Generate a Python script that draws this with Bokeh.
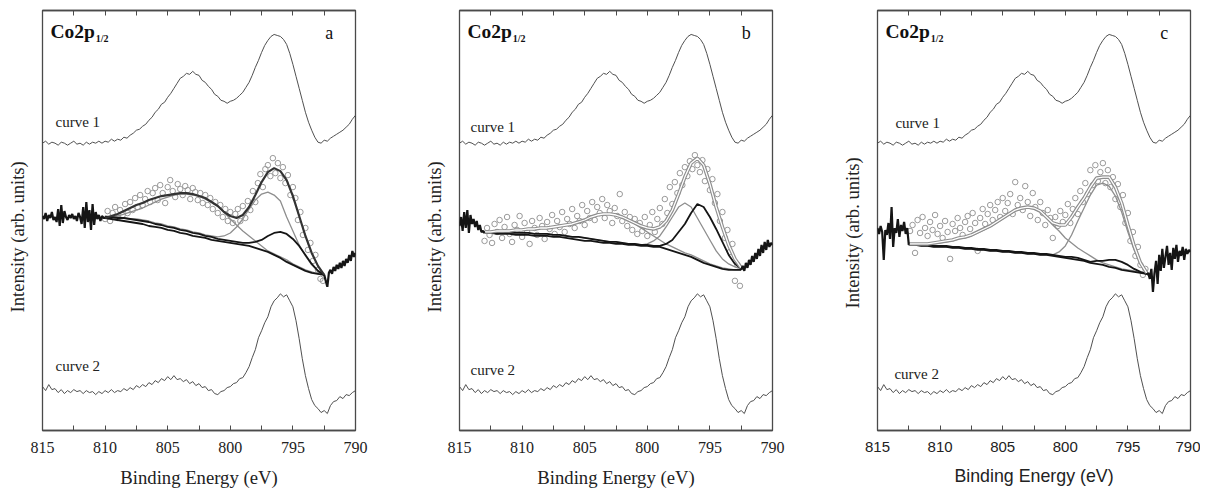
import numpy as np
from bokeh.plotting import figure
from bokeh.layouts import row
from bokeh.models import Range1d, LinearAxis, FixedTicker, Label, Title
from bokeh.embed import file_html
from bokeh.resources import INLINE

# ---------------- data (intensity in arbitrary units, energy in eV) ----------------
major_ticks = [815, 810, 805, 800, 795, 790]
minor_ticks = [812.5, 807.5, 802.5, 797.5, 792.5]

# curve 1 (top), 815 -> 790 eV, 0.25 eV step
curve1 = [288, 290, 287, 289, 288, 286, 289, 288, 286, 288, 290, 287, 288, 286, 289, 287, 289, 288, 290, 288,
          290, 289, 292, 290, 292, 291, 294, 293, 296, 298, 301, 302, 305, 307, 311, 314, 319, 322, 327, 329,
          334, 338, 343, 348, 353, 355, 358, 357, 360, 357, 356, 351, 349, 345, 342, 337, 335, 331, 330, 328,
          330, 331, 333, 336, 339, 344, 349, 356, 364, 371, 379, 386, 391, 395, 397, 396, 395, 392, 387, 378,
          367, 355, 343, 331, 319, 309, 301, 294, 289, 288, 291, 290, 293, 295, 297, 299, 301, 304, 307, 312, 316]
# curve 2 (bottom), 815 -> 790 eV, 0.25 eV step
curve2 = [44, 40, 46, 41, 42, 38, 41, 37, 40, 38, 41, 39, 40, 37, 40, 38, 39, 36, 39, 37,
          40, 38, 41, 38, 40, 39, 42, 40, 43, 41, 45, 43, 46, 44, 48, 46, 50, 48, 52, 50,
          54, 51, 55, 51, 52, 49, 51, 47, 49, 45, 47, 43, 44, 40, 41, 37, 36, 39, 40, 43,
          44, 47, 48, 52, 53, 58, 64, 73, 81, 93, 100, 108, 114, 124, 130, 133, 137, 134, 136, 130,
          124, 110, 92, 72, 55, 42, 31, 25, 22, 18, 20, 17, 25, 29, 30, 34, 32, 36, 35, 38, 40]

# ---- panel a : fit 810 -> 792.5 eV (0.5 eV step) ----
a_bg = [213, 212, 211, 210, 209, 208, 207, 205, 204, 203, 201, 200, 198, 197, 195, 194, 193, 191, 190, 189,
        188, 187, 186, 185, 183, 181, 179, 176, 173, 169, 166, 163, 160, 158, 157, 156]
a_comp1 = [213, 214, 215, 217, 219, 221, 223, 226, 229, 232, 234, 236, 237, 237, 236, 235, 232, 229, 225, 219,
           212, 206, 200, 195, 190, 185, 180, 177, 174, 171, 167, 164, 161, 159, 157, 156]
a_comp2 = [215, 214, 214, 213, 212, 212, 211, 210, 208, 207, 205, 204, 202, 201, 199, 198, 196, 195, 194, 195,
           198, 204, 212, 222, 231, 237, 239, 236, 230, 214, 200, 186, 175, 166, 160, 156]
a_comp3 = [214, 214, 213, 213, 212, 211, 210, 209, 207, 206, 204, 203, 201, 200, 198, 197, 195, 194, 192, 191,
           190, 189, 188, 188, 189, 191, 195, 198, 199, 197, 192, 185, 176, 167, 160, 156]
a_env = [213, 215, 217, 220, 223, 226, 228, 231, 233, 235, 236, 237, 238, 238, 237, 235, 233, 229, 225, 219,
         215, 213, 216, 224, 236, 249, 259, 263, 260, 251, 235, 215, 195, 178, 165, 156]
a_raw_left = [215, 212, 218, 210, 216, 213, 219, 211, 214, 209, 222, 205, 226, 208, 220, 214, 211, 216, 213, 217,
              212, 215, 210, 218, 214, 207, 224, 203, 229, 209, 221, 201, 227, 206, 219, 212, 216, 210, 215, 213, 213]
a_raw_right = [156, 150, 144, 158, 161, 157, 164, 160, 166, 162, 168, 163, 170, 165, 172, 168, 176, 170, 180, 174, 178]
a_points = [212, 220, 210, 218, 224, 213, 221, 216, 227, 218, 229, 221, 233, 224, 236, 226, 232, 240, 229, 238,
            243, 231, 246, 238, 228, 244, 251, 240, 234, 247, 242, 236, 245, 241, 232, 243, 239, 231, 238, 228,
            236, 226, 233, 222, 229, 218, 226, 214, 222, 210, 219, 208, 217, 222, 210, 225, 213, 230, 221, 240,
            229, 248, 257, 244, 262, 266, 255, 273, 258, 268, 253, 264, 248, 256, 236, 244, 233, 211, 219, 196,
            203, 181, 188, 170, 176, 161, 152, 150]

# ---- panel b : fit 813 -> 792.5 eV (0.5 eV step) ----
b_bg = [198, 198, 197, 197, 197, 196, 196, 196, 195, 195, 195, 194, 194, 193, 192, 191, 190, 190, 189, 188,
        188, 187, 187, 186, 186, 185, 185, 184, 184, 182, 180, 178, 176, 174, 171, 168, 166, 164, 162, 161, 161, 161]
b_comp1 = [199, 199, 200, 200, 200, 201, 201, 202, 202, 203, 203, 204, 205, 206, 207, 209, 211, 214, 216, 217,
           217, 216, 214, 211, 207, 203, 199, 195, 191, 187, 184, 181, 178, 176, 173, 170, 167, 165, 163, 162, 161, 161]
b_comp2 = [199, 199, 199, 199, 198, 198, 198, 198, 197, 197, 197, 196, 196, 195, 194, 194, 193, 192, 191, 190,
           189, 189, 188, 187, 187, 186, 187, 190, 195, 204, 214, 224, 228, 224, 213, 202, 191, 180, 172, 167, 164, 162]
b_comp3 = [199, 199, 199, 199, 198, 198, 198, 198, 197, 197, 197, 196, 196, 195, 194, 194, 193, 192, 191, 190,
           189, 189, 188, 187, 187, 186, 186, 185, 185, 187, 191, 199, 207, 218, 227, 224, 214, 202, 189, 176, 167, 162]
b_env = [199, 199, 200, 200, 200, 201, 201, 202, 202, 203, 203, 204, 205, 206, 207, 209, 211, 214, 216, 217,
         217, 216, 214, 211, 208, 205, 203, 202, 204, 210, 221, 237, 254, 268, 273, 266, 247, 224, 204, 186, 172, 163]
b_raw_left = [205, 214, 200, 219, 203, 221, 198, 216, 207, 212, 204, 210, 201, 206, 199, 200, 198]
b_raw_right = [161, 165, 160, 168, 163, 171, 166, 175, 169, 178, 172, 182, 175, 186, 178, 189, 181, 191, 184, 188, 186]
b_points = [190, 203, 196, 188, 207, 199, 211, 193, 204, 214, 197, 189, 206, 201, 215, 194, 208, 199, 187, 210,
            203, 196, 213, 205, 192, 209, 202, 216, 197, 210, 204, 219, 199, 212, 207, 222, 203, 215, 210, 226,
            206, 220, 213, 229, 211, 224, 218, 232, 213, 226, 220, 208, 223, 215, 237, 210, 219, 205, 214, 201,
            212, 197, 208, 200, 214, 195, 206, 219, 199, 212, 223, 207, 232, 218, 244, 227, 249, 238, 258, 246,
            264, 255, 270, 262, 276, 266, 259, 271, 250, 262, 241, 252, 228, 237, 210, 219, 193, 201, 179, 187,
            150, 166, 145]

# ---- panel c : fit 812.5 -> 793.5 eV (0.5 eV step) ----
c_bg = [186, 186, 185, 185, 184, 184, 184, 183, 183, 182, 182, 181, 181, 180, 180, 179, 179, 178, 178, 177,
        177, 176, 176, 175, 174, 173, 172, 171, 170, 168, 167, 166, 164, 163, 161, 160, 159, 158, 157]
c_comp1 = [186, 186, 186, 186, 187, 188, 189, 190, 192, 193, 195, 198, 201, 204, 208, 212, 216, 220, 222, 223,
           222, 219, 213, 206, 200, 193, 188, 183, 179, 175, 171, 168, 166, 164, 162, 161, 160, 158, 157]
c_comp2 = [186, 186, 185, 185, 184, 184, 184, 183, 183, 182, 182, 181, 181, 180, 180, 179, 179, 178, 178, 177,
           177, 176, 176, 176, 179, 185, 196, 210, 223, 236, 246, 248, 245, 235, 219, 199, 181, 167, 158]
c_comp3 = [187, 187, 186, 186, 185, 185, 185, 184, 184, 183, 183, 182, 182, 181, 181, 180, 180, 179, 179, 178,
           178, 177, 177, 176, 175, 174, 174, 173, 171, 169, 170, 170, 171, 171, 169, 166, 162, 159, 157]
c_env = [187, 187, 187, 187, 188, 189, 190, 191, 193, 194, 196, 199, 202, 205, 209, 213, 217, 221, 223, 224,
         223, 220, 214, 208, 206, 206, 214, 224, 233, 244, 253, 254, 254, 244, 228, 206, 185, 168, 158]
c_raw_left = [203, 197, 205, 199, 171, 201, 196, 208, 192, 224, 184, 203, 198, 212, 194, 206, 200, 209, 197, 203, 186]
c_raw_right = [156, 158, 152, 162, 139, 158, 170, 147, 176, 160, 182, 163, 174, 185, 166, 178, 161, 183, 172, 186,
               169, 180, 175, 184, 171, 182, 177, 181, 179]
c_points = [200, 206, 178, 211, 198, 214, 203, 195, 209, 201, 216, 197, 205, 193, 210, 199, 172, 207, 200, 213,
            203, 196, 209, 215, 202, 218, 208, 180, 213, 222, 207, 217, 226, 211, 221, 229, 214, 233, 220, 228,
            237, 217, 249, 226, 233, 221, 245, 229, 215, 238, 224, 211, 229, 218, 206, 221, 213, 193, 214, 205,
            220, 209, 216, 227, 208, 222, 233, 217, 240, 229, 248, 237, 261, 246, 266, 250, 259, 268, 248, 261,
            244, 254, 232, 247, 224, 236, 208, 218, 190, 199, 175, 184, 166, 156, 162]


def grid(start, step, n):
    """energy sampling grid (descending)"""
    return start - step * np.arange(n)


SERIF = "Liberation Serif"
SANS = "Liberation Sans"
FRAME_C = "#4a4a4a"
GRAY = "#8e8e8e"
DARK = "#151515"


def make_panel(letter, fit_start, bg, comp1, comp2, comp3, env, raw_left, raw_right_start, raw_right,
               pts_start, pts, env_dark, tick_font, tick_size, xlab_font, xlab_size,
               c1_lab, c2_lab, border_right, ylab_offset):
    p = figure(frame_width=313, frame_height=420, x_range=Range1d(815, 790), y_range=Range1d(0, 421),
               output_backend="svg", toolbar_location=None, x_axis_location=None, y_axis_location=None,
               min_border_left=42, min_border_right=border_right, min_border_top=10,
               min_border_bottom=58)
    p.grid.visible = False
    p.outline_line_color = FRAME_C
    p.outline_line_width = 1.3
    p.background_fill_color = "white"
    p.border_fill_color = "white"

    xb = LinearAxis(ticker=FixedTicker(ticks=major_ticks, minor_ticks=minor_ticks),
                    axis_label="Binding Energy (eV)")
    # top axis: ticks only (all as minor ticks, so no labels)
    xt = LinearAxis(ticker=FixedTicker(ticks=[], minor_ticks=major_ticks + minor_ticks))
    for ax in (xb, xt):
        ax.axis_line_color = FRAME_C
        ax.axis_line_width = 1.3
        ax.major_tick_line_color = FRAME_C
        ax.minor_tick_line_color = FRAME_C
        ax.major_tick_in = 5
        ax.major_tick_out = 0
        ax.minor_tick_in = 5
        ax.minor_tick_out = 0
    xb.major_label_text_font = tick_font
    xb.major_label_text_font_size = tick_size
    xb.major_label_text_color = "#222222"
    xb.major_label_standoff = 11
    xb.axis_label_text_font = xlab_font
    xb.axis_label_text_font_size = xlab_size
    xb.axis_label_text_font_style = "normal"
    xb.axis_label_text_color = "#222222"
    xb.axis_label_standoff = 11
    xt.major_label_standoff = 0
    p.add_layout(xb, "below")
    p.add_layout(xt, "above")

    # left axis: no ticks; its (unpainted) label only reserves a gap between frame and the y title
    yl = LinearAxis(ticker=FixedTicker(ticks=[]), axis_line_color=None, major_tick_out=0, major_tick_in=0,
                    minor_tick_out=0, minor_tick_in=0, major_label_standoff=0,
                    axis_label="Intensity (arb. units)", axis_label_text_color=None,
                    axis_label_text_font_size="10px", axis_label_standoff=0)
    p.add_layout(yl, "left")
    ylab = Title(text="Intensity (arb. units)", align="left", offset=ylab_offset, vertical_align="bottom",
                 standoff=2, text_font=SERIF, text_font_size="18.6px", text_font_style="normal",
                 text_color="#222222")
    p.add_layout(ylab, "left")

    p.line(grid(815, 0.25, len(curve1)), curve1, color="#505050", line_width=1)
    p.line(grid(815, 0.25, len(curve2)), curve2, color="#505050", line_width=1)

    Ef = grid(fit_start, 0.5, len(bg))
    p.scatter(grid(pts_start, 0.2, len(pts)), pts, marker="circle", size=5.5, fill_color=None,
              line_color="#9a9a9a", line_width=1)
    p.line(Ef, comp1, color=GRAY, line_width=1.3)
    p.line(Ef, comp2, color=GRAY, line_width=1.3)
    p.line(Ef, bg, color=DARK, line_width=1.8)
    p.line(Ef, comp3, color=DARK, line_width=1.8)
    if env_dark:
        p.line(Ef, env, color="#333333", line_width=2.2)
    else:
        p.line(Ef, env, color=GRAY, line_width=3.6)
        p.line(Ef, env, color="white", line_width=1.3)
    p.line(grid(815, 0.125, len(raw_left)), raw_left, color=DARK, line_width=2.2)
    p.line(grid(raw_right_start, 0.125, len(raw_right)), raw_right, color=DARK, line_width=2.2)

    p.add_layout(Label(x=814.36, y=400, text="Co2p", text_font=SERIF, text_font_style="bold",
                       text_font_size="19.5px", text_color="#111111", text_baseline="alphabetic"))
    p.add_layout(Label(x=810.75, y=393, text="1/2", text_font=SERIF, text_font_style="bold",
                       text_font_size="10px", text_color="#111111", text_baseline="alphabetic"))
    p.add_layout(Label(x=792.1, y=398, text=letter, text_font=SERIF, text_font_size="18px",
                       text_color="#111111", text_align="center", text_baseline="alphabetic"))
    p.add_layout(Label(x=c1_lab[0], y=c1_lab[1] + 5, text="curve 1", text_font=SERIF, text_font_size="15px",
                       text_color="#222222", text_baseline="alphabetic"))
    p.add_layout(Label(x=c2_lab[0], y=c2_lab[1] + 5, text="curve 2", text_font=SERIF, text_font_size="15px",
                       text_color="#222222", text_baseline="alphabetic"))
    return p


pa = make_panel("a", 810, a_bg, a_comp1, a_comp2, a_comp3, a_env, a_raw_left, 792.5, a_raw_right,
                810.0, a_points, True, SERIF, "16px", SERIF, "18.7px", (813.96, 304), (813.96, 60), 62, 118)
pb = make_panel("b", 813, b_bg, b_comp1, b_comp2, b_comp3, b_env, b_raw_left, 792.5, b_raw_right,
                813.0, b_points, False, SERIF, "16px", SERIF, "18.7px", (814.12, 299), (814.12, 56), 63, 118)
pc = make_panel("c", 812.5, c_bg, c_comp1, c_comp2, c_comp3, c_env, c_raw_left, 793.5, c_raw_right,
                812.4, c_points, False, SANS, "15px", SANS, "17.8px", (813.57, 303), (813.65, 52), 10, 122)

layout = row(pa, pb, pc)
open("out.html", "w").write(file_html(layout, INLINE))
